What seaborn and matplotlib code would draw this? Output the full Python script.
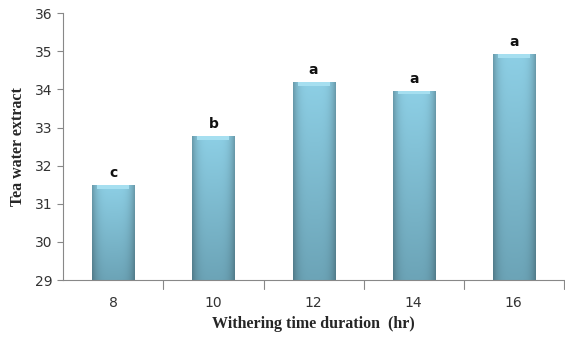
import numpy as np
import pandas as pd
import matplotlib
matplotlib.use("Agg")
import matplotlib.pyplot as plt
import seaborn as sns
from matplotlib.colors import LinearSegmentedColormap

durations = ["8", "10", "12", "14", "16"]
extract = [31.5, 32.78, 34.2, 33.97, 34.93]
letters = ["c", "b", "a", "a", "a"]

sns.set_style("white")
plt.rcParams['font.family'] = ['DejaVu Sans']

df = pd.DataFrame({"dur": durations, "val": extract})

fig = plt.figure(figsize=(5.65, 3.37), dpi=100)
ax = fig.add_axes([0.112, 0.169, 0.886, 0.792])

sns.barplot(data=df, x="dur", y="val", ax=ax, color="#86c8de", width=0.42,
            edgecolor="none", errorbar=None)
ymin, ymax = 29, 36
ax.set_ylim(ymin, ymax)
ax.set_xlim(-0.5, 4.5)

# gradient fill clipped to bars
vert = np.linspace(0, 1, 100)[:, None]
horiz = np.linspace(-1, 1, 60)[None, :]
shade = 1 - 0.25 * np.abs(horiz) ** 4
cmap = LinearSegmentedColormap.from_list("g", ["#6ca4b7", "#8dcfe5"])
for p in ax.patches:
    x0, y0 = p.get_x(), p.get_y()
    w, h = p.get_width(), p.get_height()
    top = y0 + h
    bot = max(y0, ymin)
    base = cmap(vert)[:, :, :3] * np.ones((1, 60, 1))
    img = base * shade[:, :, None]
    im = ax.imshow(img, extent=[x0, x0 + w, bot, top], origin="lower",
                   aspect="auto", zorder=p.get_zorder() + 0.1, interpolation="bilinear")
    im.set_clip_path(p)
    # top bevel highlight
    ax.fill_between([x0 + w * 0.12, x0 + w * 0.88], top - 0.1, top,
                    color="#a6dff0", zorder=p.get_zorder() + 0.2, lw=0)
    p.set_edgecolor("#6a9aab")
    p.set_linewidth(0.6)
ax.set_xlim(-0.5, 4.5)
ax.set_ylim(ymin, ymax)

for i, (v, t) in enumerate(zip(extract, letters)):
    ax.text(i, v + 0.12, t, ha="center", va="bottom", fontsize=10,
            fontweight="bold", color="#111111")

ax.set_yticks(range(29, 37))
ax.tick_params(axis="y", left=True, length=4, color="#888888", labelsize=10,
               labelcolor="#333333", pad=4)
ax.tick_params(axis="x", bottom=False, labelsize=10, labelcolor="#333333", pad=8)
for pos in [0.5, 1.5, 2.5, 3.5, 4.5]:
    ax.plot([pos, pos], [0, -0.035], transform=ax.get_xaxis_transform(),
            color="#888888", lw=0.8, clip_on=False)

for s in ["top", "right"]:
    ax.spines[s].set_visible(False)
for s in ["left", "bottom"]:
    ax.spines[s].set_color("#888888")
    ax.spines[s].set_linewidth(0.8)
    ax.spines[s].set_zorder(5)

ax.set_xlabel("Withering time duration  (hr)", family="Liberation Serif",
              fontweight="bold", fontsize=11.5, labelpad=4)
ax.set_ylabel("Tea water extract", family="Liberation Serif",
              fontweight="bold", fontsize=11.5, labelpad=6)

fig.savefig("out.png", dpi=100)
